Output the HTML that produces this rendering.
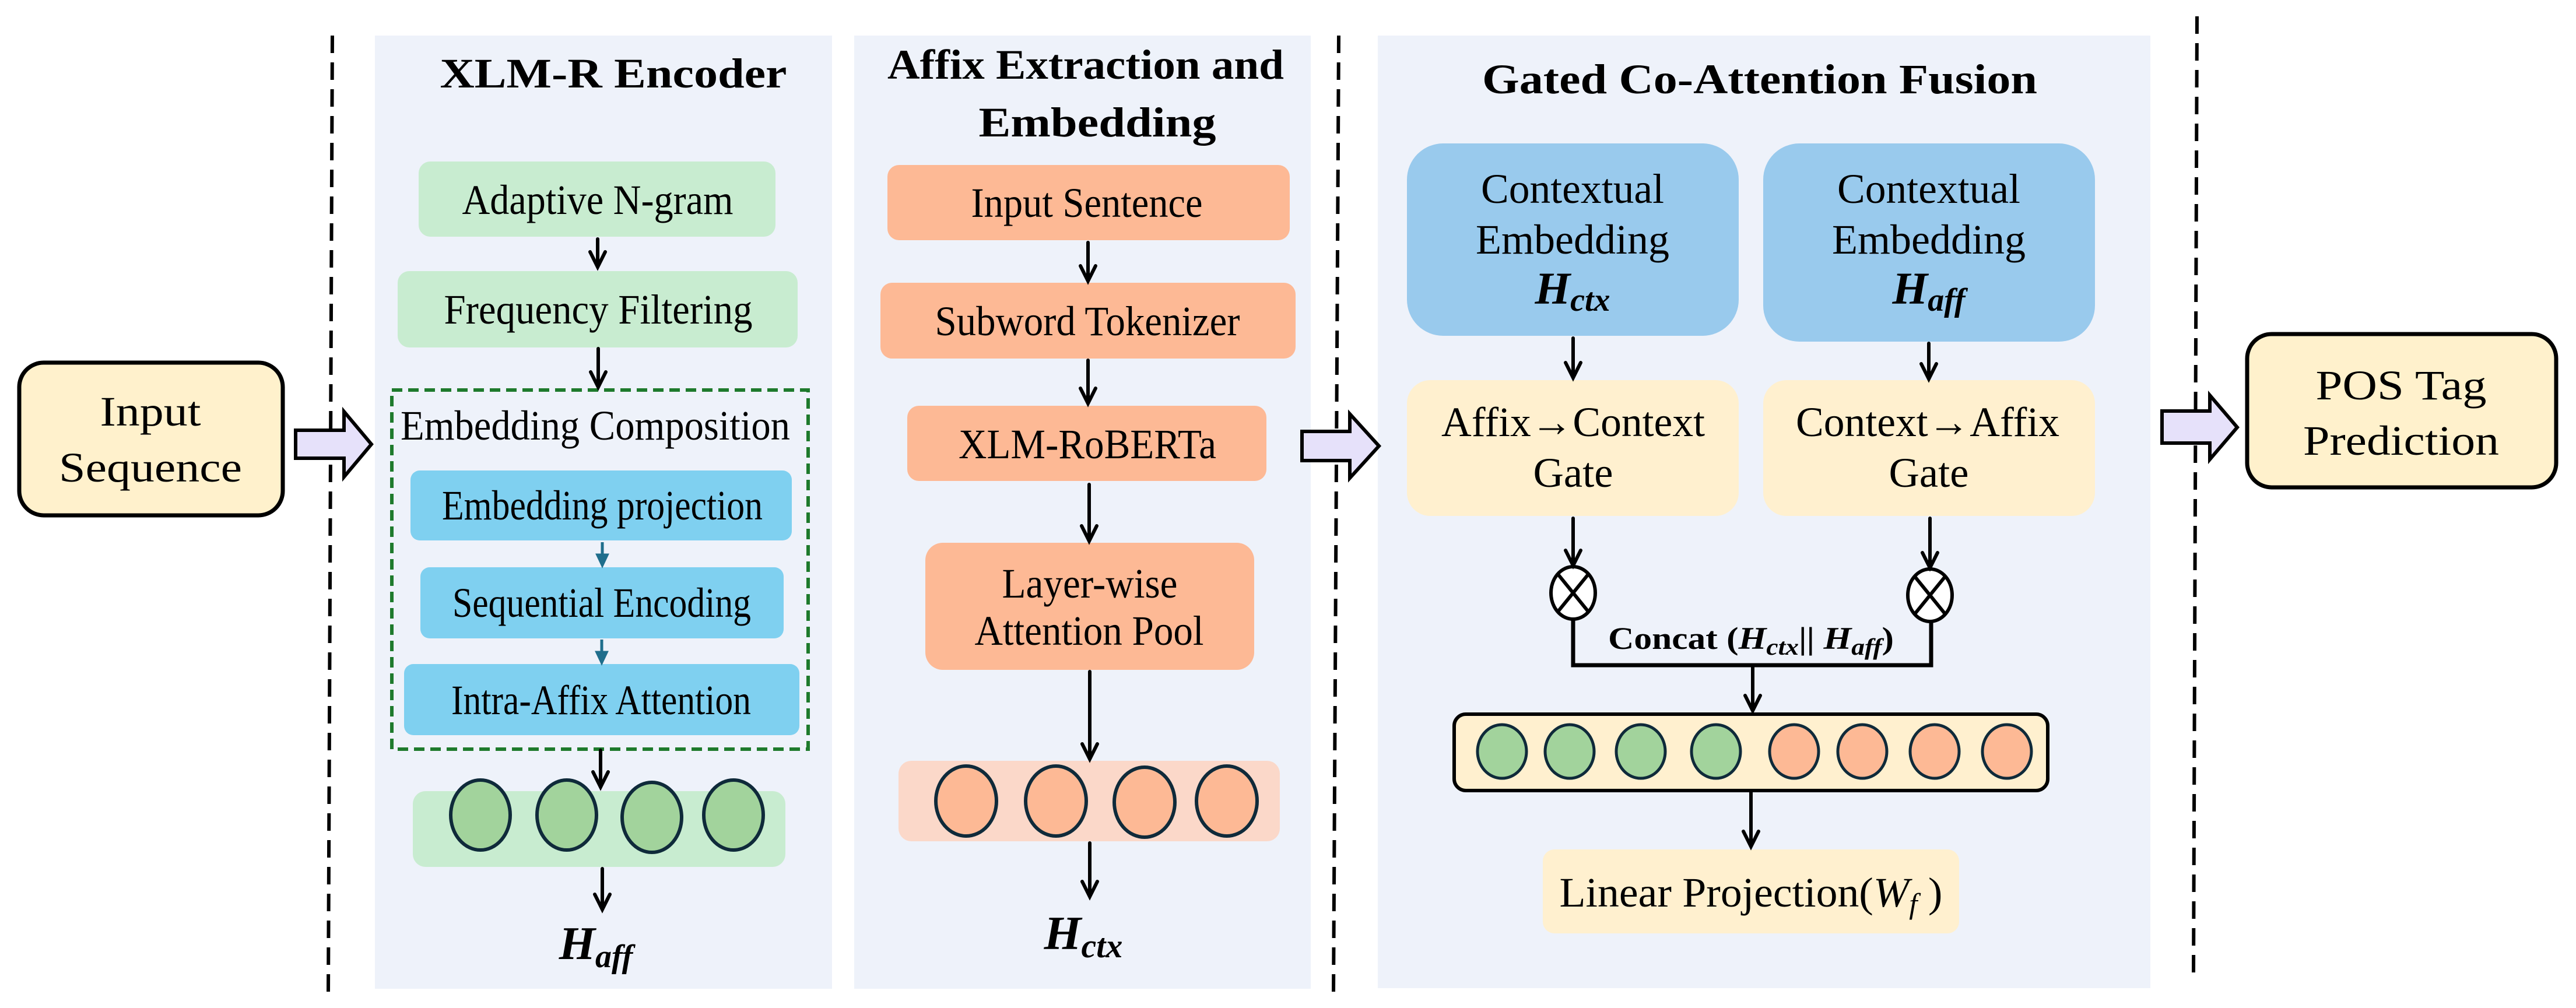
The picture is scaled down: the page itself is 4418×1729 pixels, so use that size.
<!DOCTYPE html>
<html><head><meta charset="utf-8"><style>
html,body{margin:0;padding:0;background:#fff;}
svg{display:block;font-family:"Liberation Serif","Times New Roman",serif;}
text{font-family:"Liberation Serif","Times New Roman",serif;fill:#000;}
.t{font-size:72px;text-anchor:middle;}
.b{font-weight:bold;}
.m{font-weight:bold;font-style:italic;}
</style></head><body>
<svg width="4418" height="1729" viewBox="0 0 4418 1729" xmlns="http://www.w3.org/2000/svg" font-family="Liberation Serif, serif">
<rect width="4418" height="1729" fill="#fff"/>
<rect x="643" y="61" width="784" height="1635" fill="#eef2fa"/>
<rect x="1465" y="61" width="783" height="1635" fill="#eef2fa"/>
<rect x="2363" y="61" width="1325" height="1634" fill="#eef2fa"/>
<g stroke="#000" stroke-width="6" stroke-dasharray="30,16" fill="none">
<line x1="570" y1="61" x2="563" y2="1706"/>
<line x1="2296" y1="61" x2="2287" y2="1706"/>
<line x1="3768" y1="28" x2="3762" y2="1673"/>
</g>
<rect x="33" y="622" width="452" height="262" rx="42" fill="#fff1cc" stroke="#000" stroke-width="7"/>
<text class="t" x="258" y="730" font-size="80" textLength="173" lengthAdjust="spacingAndGlyphs">Input</text>
<text class="t" x="258" y="826" font-size="80" textLength="314" lengthAdjust="spacingAndGlyphs">Sequence</text>
<g fill="#e6e1fa" stroke="#000" stroke-width="6">
<polygon points="507,738 590,738 590,706 637,762 590,818 590,786 507,786"/>
<polygon points="2233,740 2315,740 2315,710 2365,765 2315,820 2315,790 2233,790"/>
<polygon points="3708,705 3790,705 3790,678 3837,733 3790,788 3790,760 3708,760"/>
</g>
<rect x="3854" y="573" width="530" height="263" rx="42" fill="#fff1cc" stroke="#000" stroke-width="7"/>
<text class="t" x="4118" y="685" font-size="80" textLength="293" lengthAdjust="spacingAndGlyphs">POS Tag</text>
<text class="t" x="4118" y="780" font-size="80" textLength="336" lengthAdjust="spacingAndGlyphs">Prediction</text>

<text class="t b" x="1052" y="150" font-size="86" textLength="595" lengthAdjust="spacingAndGlyphs">XLM-R Encoder</text>
<rect x="718" y="277" width="612" height="129" rx="20" fill="#c8ecd0"/>
<text class="t" x="1025" y="367" textLength="465" lengthAdjust="spacingAndGlyphs">Adaptive N-gram</text>
<rect x="682" y="465" width="686" height="131" rx="20" fill="#c8ecd0"/>
<text class="t" x="1026" y="555" textLength="529" lengthAdjust="spacingAndGlyphs">Frequency Filtering</text>
<rect x="672" y="669" width="714" height="616" fill="none" stroke="#1e7a2c" stroke-width="6" stroke-dasharray="18,10"/>
<text class="t" x="1021" y="754" textLength="668" lengthAdjust="spacingAndGlyphs">Embedding Composition</text>
<rect x="704" y="807" width="654" height="120" rx="16" fill="#7fd0f0"/>
<text class="t" x="1033" y="891" font-size="68" textLength="550" lengthAdjust="spacingAndGlyphs">Embedding projection</text>
<rect x="721" y="973" width="623" height="122" rx="16" fill="#7fd0f0"/>
<text class="t" x="1032" y="1058" font-size="68" textLength="512" lengthAdjust="spacingAndGlyphs">Sequential Encoding</text>
<rect x="693" y="1139" width="678" height="122" rx="16" fill="#7fd0f0"/>
<text class="t" x="1031" y="1225" font-size="68" textLength="514" lengthAdjust="spacingAndGlyphs">Intra-Affix Attention</text>
<rect x="708" y="1357" width="639" height="130" rx="22" fill="#c8ecd0"/>
<g fill="#a2d39c" stroke="#0f2a3a" stroke-width="6">
<ellipse cx="824" cy="1398" rx="51" ry="60"/>
<ellipse cx="972" cy="1398" rx="51" ry="60"/>
<ellipse cx="1118" cy="1402" rx="51" ry="60"/>
<ellipse cx="1258" cy="1398" rx="51" ry="60"/>
</g>
<text class="m" x="1022" y="1645" font-size="80" text-anchor="middle">H<tspan font-size="56" dy="14">aff</tspan></text>

<text class="t b" x="1862" y="135" font-size="84" textLength="680" lengthAdjust="spacingAndGlyphs">Affix Extraction and</text>
<text class="t b" x="1882" y="234" font-size="84" textLength="407" lengthAdjust="spacingAndGlyphs">Embedding</text>
<rect x="1522" y="283" width="690" height="129" rx="20" fill="#fdb995"/>
<text class="t" x="1864" y="372" textLength="397" lengthAdjust="spacingAndGlyphs">Input Sentence</text>
<rect x="1510" y="485" width="712" height="130" rx="20" fill="#fdb995"/>
<text class="t" x="1865" y="575" textLength="523" lengthAdjust="spacingAndGlyphs">Subword Tokenizer</text>
<rect x="1556" y="696" width="616" height="129" rx="20" fill="#fdb995"/>
<text class="t" x="1865" y="786" textLength="442" lengthAdjust="spacingAndGlyphs">XLM-RoBERTa</text>
<rect x="1587" y="931" width="564" height="218" rx="30" fill="#fdb995"/>
<text class="t" x="1869" y="1025" textLength="301" lengthAdjust="spacingAndGlyphs">Layer-wise</text>
<text class="t" x="1868" y="1106" textLength="393" lengthAdjust="spacingAndGlyphs">Attention Pool</text>
<rect x="1541" y="1305" width="654" height="138" rx="22" fill="#fbd8c9"/>
<g fill="#fdb995" stroke="#0f2a3a" stroke-width="6">
<ellipse cx="1657" cy="1374" rx="52" ry="60"/>
<ellipse cx="1811" cy="1374" rx="52" ry="60"/>
<ellipse cx="1963" cy="1376" rx="52" ry="60"/>
<ellipse cx="2104" cy="1374" rx="52" ry="60"/>
</g>
<text class="m" x="1858" y="1628" font-size="82" text-anchor="middle">H<tspan font-size="58" dy="14">ctx</tspan></text>

<text class="t b" x="3018" y="160" font-size="86" textLength="952" lengthAdjust="spacingAndGlyphs">Gated Co-Attention Fusion</text>
<rect x="2413" y="246" width="569" height="330" rx="62" fill="#99caed"/>
<rect x="3024" y="246" width="569" height="340" rx="62" fill="#99caed"/>
<text class="t" x="2697" y="348" font-size="76" textLength="314" lengthAdjust="spacingAndGlyphs">Contextual</text>
<text class="t" x="2697" y="435" font-size="76" textLength="332" lengthAdjust="spacingAndGlyphs">Embedding</text>
<text class="m" x="2697" y="521" font-size="78" text-anchor="middle">H<tspan font-size="56" dy="12">ctx</tspan></text>
<text class="t" x="3308" y="348" font-size="76" textLength="314" lengthAdjust="spacingAndGlyphs">Contextual</text>
<text class="t" x="3308" y="435" font-size="76" textLength="332" lengthAdjust="spacingAndGlyphs">Embedding</text>
<text class="m" x="3308" y="521" font-size="78" text-anchor="middle">H<tspan font-size="56" dy="12">aff</tspan></text>
<rect x="2413" y="652" width="569" height="233" rx="40" fill="#fff0cf"/>
<rect x="3024" y="652" width="569" height="233" rx="40" fill="#fff0cf"/>
<text class="t" x="2698" y="748" font-size="76" textLength="452" lengthAdjust="spacingAndGlyphs">Affix→Context</text>
<text class="t" x="2698" y="835" font-size="76" textLength="137" lengthAdjust="spacingAndGlyphs">Gate</text>
<text class="t" x="3306" y="748" font-size="76" textLength="452" lengthAdjust="spacingAndGlyphs">Context→Affix</text>
<text class="t" x="3308" y="835" font-size="76" textLength="137" lengthAdjust="spacingAndGlyphs">Gate</text>
<g stroke="#000" stroke-width="6" fill="#fff">
<ellipse cx="2698" cy="1017" rx="38" ry="45"/>
<ellipse cx="3310" cy="1021" rx="38" ry="45"/>
<line x1="2672" y1="985" x2="2724" y2="1049"/><line x1="2724" y1="985" x2="2672" y2="1049"/>
<line x1="3284" y1="989" x2="3336" y2="1053"/><line x1="3336" y1="989" x2="3284" y2="1053"/>
</g>
<polyline points="2698,1062 2698,1141 3312,1141 3312,1066" fill="none" stroke="#000" stroke-width="7"/>
<text x="3003" y="1113" font-size="54" font-weight="bold" text-anchor="middle" textLength="490" lengthAdjust="spacingAndGlyphs">Concat (<tspan font-style="italic">H</tspan><tspan font-style="italic" font-size="40" dy="10">ctx</tspan><tspan dy="-10">|| </tspan><tspan font-style="italic">H</tspan><tspan font-style="italic" font-size="40" dy="10">aff</tspan><tspan dy="-10">)</tspan></text>
<rect x="2494" y="1225" width="1018" height="131" rx="20" fill="#fff0cf" stroke="#000" stroke-width="6"/>
<g stroke="#0f2a3a" stroke-width="5">
<ellipse cx="2576" cy="1289" rx="42" ry="46" fill="#a2d39c"/>
<ellipse cx="2692" cy="1289" rx="42" ry="46" fill="#a2d39c"/>
<ellipse cx="2814" cy="1289" rx="42" ry="46" fill="#a2d39c"/>
<ellipse cx="2943" cy="1289" rx="42" ry="46" fill="#a2d39c"/>
<ellipse cx="3077" cy="1289" rx="42" ry="46" fill="#fdb995"/>
<ellipse cx="3194" cy="1289" rx="42" ry="46" fill="#fdb995"/>
<ellipse cx="3318" cy="1289" rx="42" ry="46" fill="#fdb995"/>
<ellipse cx="3442" cy="1289" rx="42" ry="46" fill="#fdb995"/>
</g>
<rect x="2646" y="1457" width="714" height="144" rx="20" fill="#fff0cf"/>
<text class="t" x="3003" y="1555" font-size="76" textLength="657" lengthAdjust="spacingAndGlyphs">Linear Projection(<tspan font-style="italic">W</tspan><tspan font-style="italic" font-size="50" dy="12">f</tspan><tspan dy="-12"> )</tspan></text>

<g stroke="#000" stroke-width="6" fill="none" stroke-linecap="round">
<path d="M1025,410 V458 M1012,432 L1025,458 L1038,432"/>
<path d="M1026,598 V664 M1013,638 L1026,664 L1039,638"/>
<path d="M1030,1287 V1350 M1017,1324 L1030,1350 L1043,1324"/>
<path d="M1033,1490 V1560 M1020,1534 L1033,1560 L1046,1534"/>
<path d="M1866,416 V482 M1853,456 L1866,482 L1879,456"/>
<path d="M1866,618 V692 M1853,666 L1866,692 L1879,666"/>
<path d="M1868,831 V928 M1855,902 L1868,928 L1881,902"/>
<path d="M1869,1152 V1302 M1856,1276 L1869,1302 L1882,1276"/>
<path d="M1869,1446 V1538 M1856,1512 L1869,1538 L1882,1512"/>
<path d="M2698,580 V648 M2685,622 L2698,648 L2711,622"/>
<path d="M3308,589 V650 M3295,624 L3308,650 L3321,624"/>
<path d="M2698,889 V970 M2685,944 L2698,970 L2711,944"/>
<path d="M3310,889 V974 M3297,948 L3310,974 L3323,948"/>
<path d="M3006,1141 V1219 M2993,1193 L3006,1219 L3019,1193"/>
<path d="M3003,1358 V1452 M2990,1426 L3003,1452 L3016,1426"/>
</g>
<g stroke="#1f6e8c" stroke-width="5" fill="#1f6e8c">
<line x1="1033" y1="930" x2="1033" y2="955"/><polygon points="1025,952 1041,952 1033,969"/>
<line x1="1032" y1="1097" x2="1032" y2="1122"/><polygon points="1024,1119 1040,1119 1032,1136"/>
</g>
</svg>
</body></html>
